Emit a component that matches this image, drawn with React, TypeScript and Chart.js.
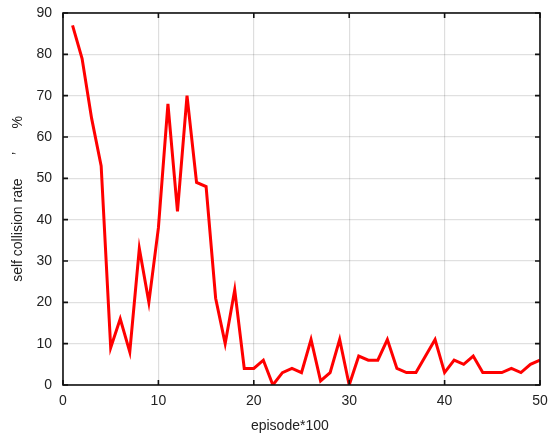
import React, { useEffect, useRef } from "react";
import { Chart, registerables } from "chart.js";

Chart.register(...registerables);

const episodes: number[] = [
  1, 2, 3, 4, 5, 6, 7, 8, 9, 10,
  11, 12, 13, 14, 15, 16, 17, 18, 19, 20,
  21, 22, 23, 24, 25, 26, 27, 28, 29, 30,
  31, 32, 33, 34, 35, 36, 37, 38, 39, 40,
  41, 42, 43, 44, 45, 46, 47, 48, 49, 50,
];
const collisionRate: number[] = [
  87, 79, 64.5, 53, 9, 16, 8, 33, 20, 38,
  68, 42, 70, 49, 48, 21, 10, 23, 4, 4,
  6, 0, 3, 4, 3, 11, 1, 3, 11, 0,
  7, 6, 6, 11, 4, 3, 3, 7, 11, 3,
  6, 5, 7, 3, 3, 3, 4, 3, 5, 6,
];
const xTickValues: number[] = [0, 10, 20, 30, 40, 50];
const yTickValues: number[] = [0, 10, 20, 30, 40, 50, 60, 70, 80, 90];

const xTitle = "episode*100      ";
const yTitle = "self collision rate      \u2019      %";

const framePlugin = {
  id: "frame",
  afterDatasetsDraw(chart: any) {
    const { ctx, chartArea, scales } = chart;
    const { left, right, top, bottom } = chartArea;
    ctx.save();
    ctx.strokeStyle = "#111";
    ctx.lineWidth = 1.6;
    ctx.strokeRect(left, top, right - left, bottom - top);
    const tl = 5;
    ctx.beginPath();
    for (const v of xTickValues) {
      const px = scales.x.getPixelForValue(v);
      ctx.moveTo(px, bottom);
      ctx.lineTo(px, bottom - tl);
      ctx.moveTo(px, top);
      ctx.lineTo(px, top + tl);
    }
    for (const v of yTickValues) {
      const py = scales.y.getPixelForValue(v);
      ctx.moveTo(left, py);
      ctx.lineTo(left + tl, py);
      ctx.moveTo(right, py);
      ctx.lineTo(right - tl, py);
    }
    ctx.stroke();
    ctx.restore();
  },
};

export default function App() {
  const ref = useRef<HTMLCanvasElement | null>(null);
  useEffect(() => {
    document.body.style.margin = "0";
    const canvas = ref.current;
    if (!canvas) return;
    const font = { family: "'Liberation Sans', Arial, sans-serif", size: 14 };
    const chart = new Chart(canvas, {
      type: "line",
      data: {
        datasets: [
          {
            data: episodes.map((x, i) => ({ x, y: collisionRate[i] })),
            borderColor: "#ff0000",
            backgroundColor: "#ff0000",
            borderWidth: 3,
            pointRadius: 0,
            tension: 0,
          },
        ],
      },
      options: {
        animation: false,
        responsive: false,
        maintainAspectRatio: false,
        layout: { padding: { top: 13, right: 10, left: 0, bottom: 0 } },
        plugins: { legend: { display: false }, tooltip: { enabled: false } },
        scales: {
          x: {
            type: "linear",
            min: 0,
            max: 50,
            afterBuildTicks: (s: any) => {
              s.ticks = xTickValues.map((v) => ({ value: v }));
            },
            afterFit: (s: any) => {
              s.height = 54;
              s.paddingLeft = 0;
              s.paddingRight = 0;
            },
            grid: { color: "rgba(0,0,0,0.13)", lineWidth: 1.2, drawTicks: false },
            border: { display: false },
            ticks: { color: "#222", font, padding: 8, maxRotation: 0 },
            title: {
              display: true,
              text: xTitle,
              color: "#222",
              font,
              padding: { top: 0, bottom: 4 },
            },
          },
          y: {
            type: "linear",
            min: 0,
            max: 90,
            afterBuildTicks: (s: any) => {
              s.ticks = yTickValues.map((v) => ({ value: v }));
            },
            afterFit: (s: any) => {
              s.width = 63;
              s.paddingTop = 0;
              s.paddingBottom = 0;
            },
            grid: { color: "rgba(0,0,0,0.12)", lineWidth: 1.2, drawTicks: false },
            border: { display: false },
            ticks: { color: "#222", font, padding: 11 },
            title: {
              display: true,
              text: yTitle,
              color: "#222",
              font,
              padding: { top: 10, bottom: 0 },
            },
          },
        },
      },
      plugins: [framePlugin],
    });
    return () => chart.destroy();
  }, []);
  return (
    <div style={{ width: 550, height: 439 }}>
      <canvas ref={ref} width={550} height={439} style={{ display: "block" }} />
    </div>
  );
}
